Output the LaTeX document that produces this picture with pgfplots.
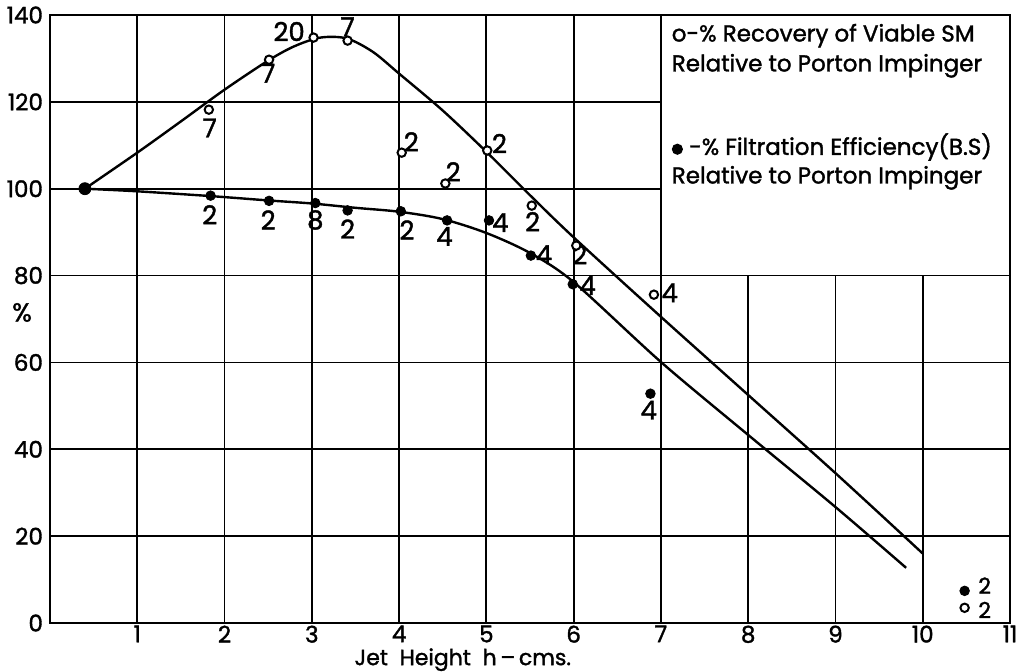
\documentclass[border=0pt]{standalone}
\usepackage{fontspec}
\setmainfont{Poppins}[FakeBold=1.5]
\usepackage{pgfplots}
\pgfplotsset{compat=1.18}
\begin{document}
\begin{tikzpicture}
\useasboundingbox (-25pt,-24.5pt) rectangle (488.5pt,311.5pt);
\begin{axis}[at={(0,0)}, anchor=south west, scale only axis,
  width=480pt, height=304pt,
  xmin=0, xmax=11, ymin=0, ymax=140,
  xtick={1,...,11}, ytick={0,20,...,140},
  grid=major, major grid style={black, line width=0.9pt},
  axis line style={line width=1pt}, major tick length=0pt,
  tick label style={font=\fontsize{11.5}{13}\selectfont},
  xticklabel style={yshift=2.2pt},
  /pgf/number format/assume math mode=true,
  clip=false]
% curves
\addplot[black, line width=1.2pt, smooth, tension=0.5] coordinates {
 (0.4,100) (1,108.3) (1.5,115.5) (2,122.8) (2.5,129.5) (2.8,132.8) (3.1,134.8)
 (3.4,134.6) (3.7,131.5) (4,126.5) (4.5,118) (5,108.5) (5.5,98.5) (6,88.8)
 (7,70.5) (8,52.5) (9,34.5) (10,16)};
\addplot[black, line width=1.2pt, smooth, tension=0.5] coordinates {
 (0.4,100) (1,99.4) (1.84,98.3) (2.5,97.3) (3,96.6) (3.5,95.6) (4,94.7)
 (4.5,93) (5,89.8) (5.5,85.2) (6,78.5) (7,60.1) (8,43.3) (9,26.7) (9.81,12.7)};
% open circles: recovery
\addplot[only marks, mark=*, mark size=2.1pt, mark options={fill=white, draw=black, line width=1pt}] coordinates {
 (1.82,118.2) (2.51,129.7) (3.02,134.8) (3.41,134.1) (4.03,108.3) (4.53,101.2)
 (5.01,108.8) (5.52,96.1) (6.03,86.9) (6.92,75.6) (10.48,3.5)};
% filled circles: filtration
\addplot[only marks, mark=*, mark size=2.4pt, mark options={fill=black, draw=black}] coordinates {
 (1.84,98.4) (2.51,97.2) (3.04,96.7) (3.41,95.0) (4.02,94.8) (4.55,92.7)
 (5.03,92.7) (5.51,84.6) (5.99,78.0) (6.88,52.8) (10.48,7.4)};
\addplot[only marks, mark=*, mark size=3pt, mark options={fill=black}] coordinates {(0.4,100)};
% legend box
\fill[white] (axis cs:7,80) rectangle (axis cs:11,140);
\draw[line width=0.9pt] (axis cs:7,80) rectangle (axis cs:11,140);
\begin{scope}[every node/.style={font=\fontsize{11.5}{13}\selectfont, anchor=base west, inner sep=0pt}]
\node at (axis cs:7.12,133.9) {o-\% Recovery of Viable SM};
\node at (axis cs:7.12,127.0) {Relative to Porton Impinger};
\node at (axis cs:7.12,107.8) {\tikz\fill (0,0) circle (2.8pt);\ -\% Filtration Efficiency(B.S)};
\node at (axis cs:7.12,101.2) {Relative to Porton Impinger};
\end{scope}
% point labels
\begin{scope}[every node/.style={font=\fontsize{13}{15}\selectfont, inner sep=0pt}]
\node at (axis cs:1.83,114) {7};
\node at (axis cs:2.50,126.6) {7};
\node at (axis cs:2.74,136.2) {20};
\node at (axis cs:3.41,137.3) {7};
\node at (axis cs:4.14,110.8) {2};
\node at (axis cs:4.62,103.9) {2};
\node at (axis cs:5.15,110.4) {2};
\node at (axis cs:5.53,92.4) {2};
\node at (axis cs:6.07,84.8) {2};
\node at (axis cs:7.10,76.0) {4};
\node at (axis cs:1.83,94.0) {2};
\node at (axis cs:2.50,92.8) {2};
\node at (axis cs:3.04,92.8) {8};
\node at (axis cs:3.41,90.7) {2};
\node at (axis cs:4.09,90.5) {2};
\node at (axis cs:4.52,89.0) {4};
\node at (axis cs:5.16,92.2) {4};
\node at (axis cs:5.66,84.8) {4};
\node at (axis cs:6.16,77.7) {4};
\node at (axis cs:6.86,49.0) {4};
\end{scope}
\begin{scope}[every node/.style={font=\fontsize{11}{12}\selectfont, inner sep=0pt}]
\node at (axis cs:10.71,8.6) {2};
\node at (axis cs:10.71,3.0) {2};
\end{scope}
% axis labels
\node[font=\fontsize{13}{15}\selectfont] at (axis cs:-0.32,71.5) {\%};
\node[font=\fontsize{11}{13}\selectfont, anchor=base] at (axis cs:4.73,-9.7) {Jet\ \ Height\ \ h\,–\,cms.};
\end{axis}
\end{tikzpicture}
\end{document}
